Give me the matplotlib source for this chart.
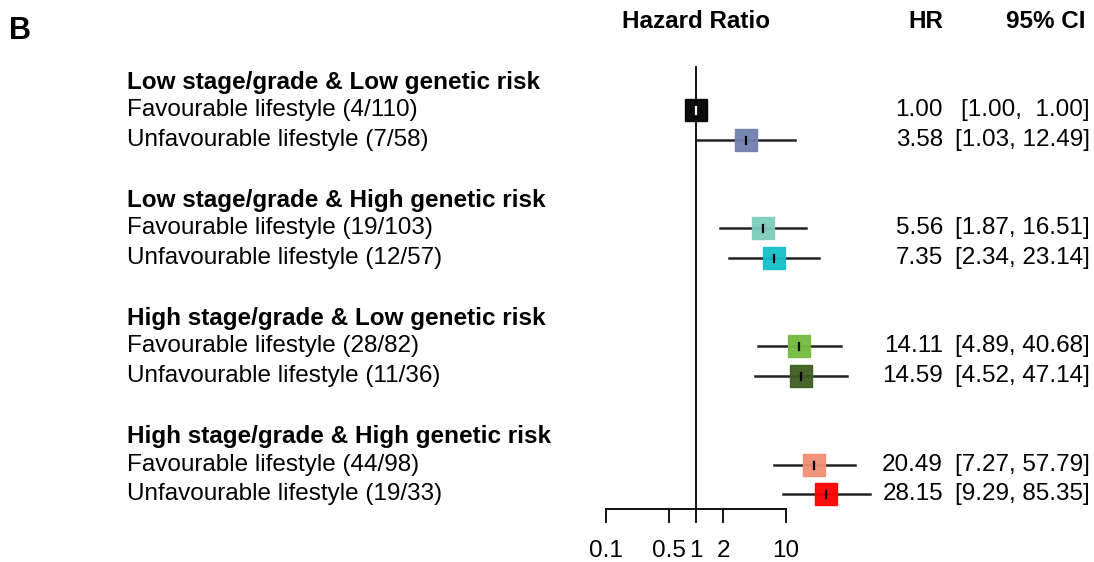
import numpy as np
import matplotlib.pyplot as plt

plt.rcParams["font.family"] = ["Liberation Sans", "DejaVu Sans"]

GROUPS = [
    "Low stage/grade & Low genetic risk",
    "Low stage/grade & High genetic risk",
    "High stage/grade & Low genetic risk",
    "High stage/grade & High genetic risk",
]
ROW_LABELS = [
    "Favourable lifestyle (4/110)",
    "Unfavourable lifestyle (7/58)",
    "Favourable lifestyle (19/103)",
    "Unfavourable lifestyle (12/57)",
    "Favourable lifestyle (28/82)",
    "Unfavourable lifestyle (11/36)",
    "Favourable lifestyle (44/98)",
    "Unfavourable lifestyle (19/33)",
]
HR = [1.00, 3.58, 5.56, 7.35, 14.11, 14.59, 20.49, 28.15]
CI_LOW = [1.00, 1.03, 1.87, 2.34, 4.89, 4.52, 7.27, 9.29]
CI_HIGH = [1.00, 12.49, 16.51, 23.14, 40.68, 47.14, 57.79, 85.35]
COLORS = ["#000000", "#7181ad", "#7ecdbc", "#14bfca",
          "#74bb3d", "#3d5e1f", "#f08e74", "#ff0000"]
TICKS = [0.1, 0.5, 1, 2, 10]
TICK_LABELS = ["0.1", "0.5", "1", "2", "10"]

W, H = 1094, 562
FS = 17.5
fig = plt.figure(figsize=(W / 100, H / 100), dpi=100)

# forest panel: x = 0.1..10 spans pixels 606..786, y in pixel rows
ax = fig.add_axes([606 / W, 0, 180 / W, 1])
ax.set_xscale("log")
ax.set_xlim(0.1, 10)
ax.set_ylim(H, 0)
ax.axis("off")

# row positions (pixels from top)
group_y = [82, 200, 318, 437]
row_y = [110, 140, 228, 258, 346, 376, 465, 494]

axis_y = 509
ax.plot([1, 1], [67, axis_y], color="black", lw=1.3, clip_on=False)
ax.plot([0.1, 10], [axis_y, axis_y], color="black", lw=1.3, clip_on=False)
for t, lab in zip(TICKS, TICK_LABELS):
    ax.plot([t, t], [axis_y, axis_y + 13], color="black", lw=1.3, clip_on=False)
    ax.text(t, 551, lab, ha="center", va="center", fontsize=FS, clip_on=False)

for y, hr, lo, hi, c in zip(row_y, HR, CI_LOW, CI_HIGH, COLORS):
    if hi > lo:
        ax.plot([lo, hi], [y, y], color="#222222", lw=1.8,
                clip_on=False, zorder=2)
    ax.plot(hr, y, marker="s", ms=16, color=c, mec=c, alpha=0.95,
            clip_on=False, zorder=3, ls="none")
    tick_c = "white" if c == "#000000" else "black"
    ax.plot([hr, hr], [y - 3.5, y + 3.5], color=tick_c, lw=1.6,
            clip_on=False, zorder=4)


def ftext(x, y, s, **kw):
    fig.text(x / W, 1 - y / H, s, va="center", **kw)


ftext(9, 31, "B", fontsize=22, fontweight="bold", ha="left")
ftext(696, 22, "Hazard Ratio", fontsize=FS, fontweight="bold", ha="center")
ftext(943, 22, "HR", fontsize=FS, fontweight="bold", ha="right")
ftext(1085, 22, "95% CI", fontsize=FS, fontweight="bold", ha="right")

for g, y in zip(GROUPS, group_y):
    ftext(127, y, g, fontsize=FS, fontweight="bold", ha="left")

for lab, y, hr, lo, hi in zip(ROW_LABELS, row_y, HR, CI_LOW, CI_HIGH):
    ftext(127, y, lab, fontsize=FS, ha="left")
    ftext(943, y, f"{hr:.2f}", fontsize=FS, ha="right")
    ftext(1090, y, f"[{lo:.2f}, {hi:5.2f}]", fontsize=FS, ha="right")

fig.savefig("out.png", dpi=100, facecolor="white")
